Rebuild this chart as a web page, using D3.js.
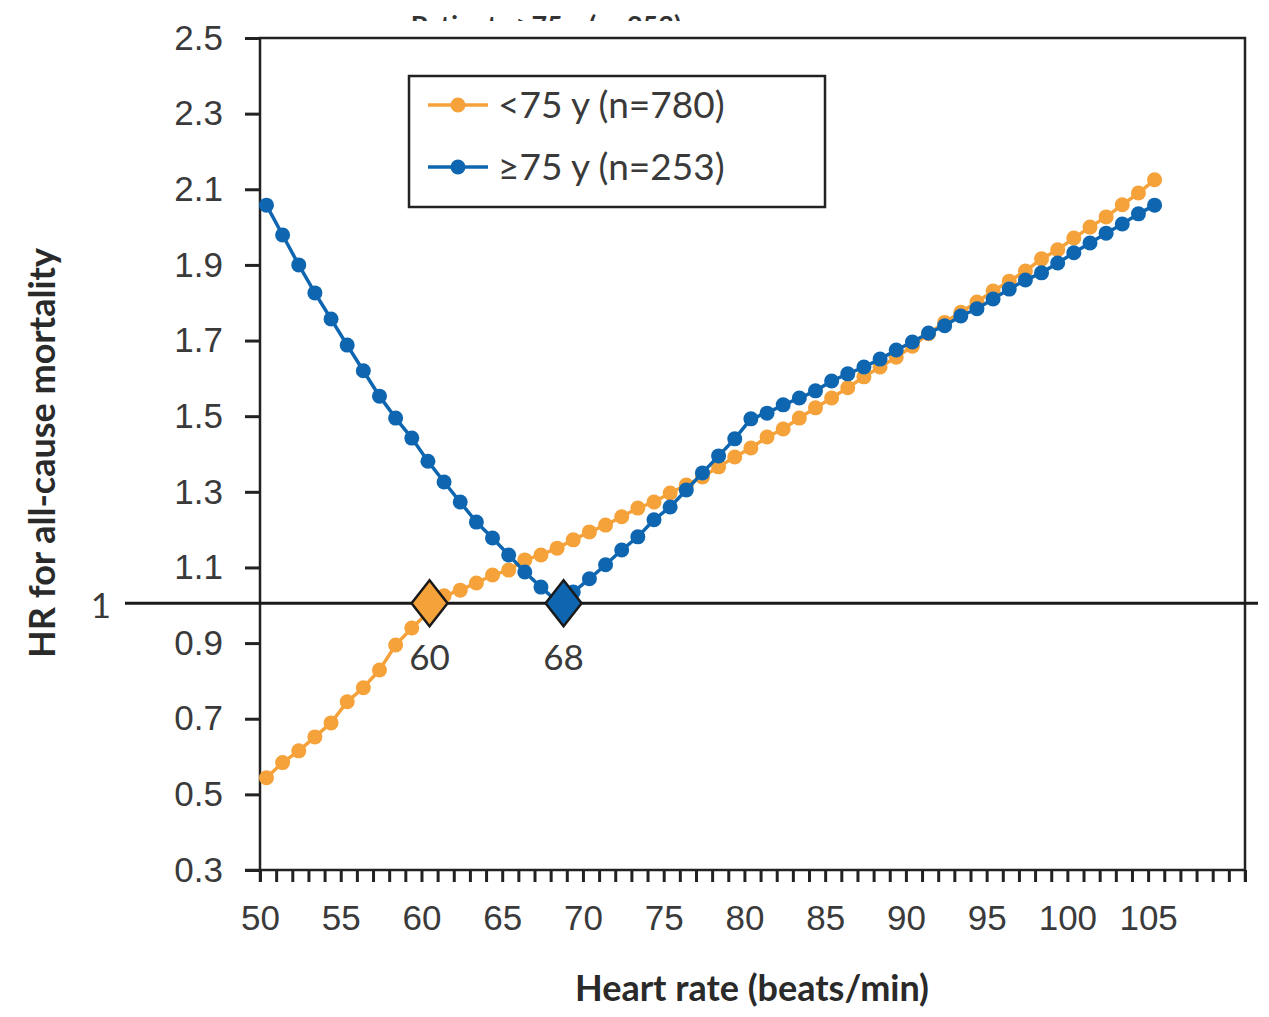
<!DOCTYPE html>
<html>
<head>
<meta charset="utf-8">
<script src="https://cdn.jsdelivr.net/npm/d3@7"></script>
<style>
  body { margin: 0; background: #fff; }
  svg { font-family: Lato, "Open Sans", sans-serif; }
  .tick text { fill: #3a3a3a; font-size: 35px; }
  .axis-label { font-weight: bold; font-size: 36px; fill: #2a2a2a; }
</style>
</head>
<body>
<svg id="chart" width="1269" height="1017"></svg>
<script>
// heart rate of each plotted point (beats/min)
const heartRate = [50.4, 51.4, 52.4, 53.4, 54.4, 55.4, 56.4, 57.4, 58.4, 59.4,
  60.4, 61.4, 62.4, 63.4, 64.4, 65.4, 66.4, 67.4, 68.4, 69.4,
  70.4, 71.4, 72.4, 73.4, 74.4, 75.4, 76.4, 77.4, 78.4, 79.4,
  80.4, 81.4, 82.4, 83.4, 84.4, 85.4, 86.4, 87.4, 88.4, 89.4,
  90.4, 91.4, 92.4, 93.4, 94.4, 95.4, 96.4, 97.4, 98.4, 99.4,
  100.4, 101.4, 102.4, 103.4, 104.4, 105.4];

// HR, patients <75 y
const hrUnder75 = [0.544, 0.584, 0.615, 0.652, 0.689, 0.745, 0.782, 0.829, 0.895, 0.940,
  0.980, 1.025, 1.040, 1.059, 1.080, 1.093, 1.120, 1.133, 1.151, 1.173,
  1.194, 1.212, 1.234, 1.257, 1.273, 1.297, 1.318, 1.339, 1.366, 1.392,
  1.416, 1.445, 1.466, 1.495, 1.522, 1.548, 1.575, 1.604, 1.630, 1.656,
  1.685, 1.718, 1.748, 1.775, 1.802, 1.831, 1.857, 1.884, 1.916, 1.940,
  1.971, 2.000, 2.027, 2.059, 2.090, 2.125];

// HR, patients >=75 y
const hrOver75 = [2.058, 1.979, 1.900, 1.826, 1.757, 1.688, 1.620, 1.553, 1.495, 1.442,
  1.381, 1.326, 1.273, 1.220, 1.178, 1.133, 1.088, 1.048, 1.010, 1.035,
  1.070, 1.107, 1.146, 1.181, 1.226, 1.260, 1.305, 1.350, 1.395, 1.440,
  1.493, 1.508, 1.530, 1.548, 1.567, 1.593, 1.612, 1.630, 1.651, 1.675,
  1.696, 1.720, 1.739, 1.765, 1.784, 1.810, 1.836, 1.860, 1.879, 1.905,
  1.932, 1.958, 1.984, 2.008, 2.035, 2.058];

const seriesNames = ["<75 y (n=780)", "\u226575 y (n=253)"];
const seriesColors = ["#f6a23a", "#0f66b0"];

// lowest-risk heart rates (diamonds)
const nadirLabels = ["60", "68"];
const nadirRate = [60.5, 68.8];

const xTicks = d3.range(50, 112);
const xTickLabels = [50, 55, 60, 65, 70, 75, 80, 85, 90, 95, 100, 105];
const yTicks = [0.3, 0.5, 0.7, 0.9, 1.1, 1.3, 1.5, 1.7, 1.9, 2.1, 2.3, 2.5];

const svg = d3.select('#chart');
const margin = { top: 38, left: 260, right: 24, bottom: 147 };
const width = +svg.attr('width');
const height = +svg.attr('height');
const innerWidth = width - margin.left - margin.right;
const innerHeight = height - margin.top - margin.bottom;

const xScale = d3.scaleLinear().domain([50, 111]).range([0, innerWidth]);
const yScale = d3.scaleLinear().domain([0.3, 2.5]).range([innerHeight, 0]);

const g = svg.append('g')
    .attr('transform', 'translate(' + margin.left + ',' + margin.top + ')');

// clipped title peeking above the frame
svg.append('clipPath').attr('id', 'titleClip')
  .append('rect').attr('x', 0).attr('y', 0).attr('width', width).attr('height', 21);
svg.append('text')
    .attr('clip-path', 'url(#titleClip)')
    .attr('x', 546).attr('y', 35)
    .attr('text-anchor', 'middle')
    .style('font-size', '27px').style('font-weight', 'bold').style('fill', '#333')
    .text('Patients \u226575 y (n=253)');

// axes
const yAxis = d3.axisLeft(yScale).tickValues(yTicks).tickSize(15).tickPadding(22)
    .tickFormat(d3.format('.1f'));
const yG = g.append('g').call(yAxis);

const xAxis = d3.axisBottom(xScale).tickValues(xTicks).tickSize(12).tickPadding(23)
    .tickFormat(d => xTickLabels.includes(d) ? d : '');
const xG = g.append('g').attr('transform', 'translate(0,' + innerHeight + ')').call(xAxis);
xG.selectAll('.tick text').filter(d => !xTickLabels.includes(d)).remove();

[yG, xG].forEach(a => {
  a.select('.domain').remove();
  a.selectAll('.tick line').attr('stroke', '#222').attr('stroke-width', 3);
});

// frame
g.append('path')
    .attr('d', 'M0,' + (innerHeight + 12) + 'V0H' + innerWidth + 'V' + (innerHeight + 12))
    .attr('fill', 'none').attr('stroke', '#222').attr('stroke-width', 2.5);
g.append('line')
    .attr('x1', -15).attr('x2', innerWidth)
    .attr('y1', innerHeight).attr('y2', innerHeight)
    .attr('stroke', '#222').attr('stroke-width', 2.5);

// reference line at HR = 1
g.append('line')
    .attr('x1', 125 - margin.left).attr('x2', 1258 - margin.left)
    .attr('y1', yScale(1) - 2).attr('y2', yScale(1) - 2)
    .attr('stroke', '#1a1a1a').attr('stroke-width', 3);
g.append('text')
    .attr('x', 101 - margin.left).attr('y', yScale(1))
    .attr('dy', '0.36em').attr('text-anchor', 'middle')
    .style('font-size', '35px').style('fill', '#3a3a3a')
    .text('1');

// series
const line = d3.line().x(d => xScale(d[0])).y(d => yScale(d[1]));
[hrUnder75, hrOver75].forEach((vals, k) => {
  const pts = heartRate.map((h, i) => [h, vals[i]]);
  g.append('path').datum(pts)
      .attr('d', line).attr('fill', 'none')
      .attr('stroke', seriesColors[k]).attr('stroke-width', 3.5);
  g.append('g').selectAll('circle').data(pts).enter().append('circle')
      .attr('cx', d => xScale(d[0])).attr('cy', d => yScale(d[1]))
      .attr('r', 7.5).attr('fill', seriesColors[k]);
});

// diamonds at the nadir
nadirRate.forEach((r, k) => {
  const cx = xScale(r), cy = yScale(1) - 2;
  g.append('path')
      .attr('d', 'M' + cx + ',' + (cy - 23) + 'L' + (cx + 18) + ',' + cy + 'L' + cx + ',' + (cy + 23) + 'L' + (cx - 18) + ',' + cy + 'Z')
      .attr('fill', seriesColors[k]).attr('stroke', '#1a1a1a').attr('stroke-width', 2.5);
  g.append('text')
      .attr('x', cx).attr('y', cy + 67)
      .attr('text-anchor', 'middle')
      .style('font-size', '35px').style('fill', '#3a3a3a')
      .text(nadirLabels[k]);
});

// legend
const lg = svg.append('g').attr('transform', 'translate(409,76)');
lg.append('rect').attr('width', 416).attr('height', 131)
    .attr('fill', '#fff').attr('stroke', '#222').attr('stroke-width', 2.5);
seriesNames.forEach((name, k) => {
  const yy = 29 + k * 62;
  lg.append('line').attr('x1', 19).attr('x2', 79).attr('y1', yy).attr('y2', yy)
      .attr('stroke', seriesColors[k]).attr('stroke-width', 3.5);
  lg.append('circle').attr('cx', 49).attr('cy', yy).attr('r', 7.5).attr('fill', seriesColors[k]);
  lg.append('text').attr('x', 89).attr('y', yy).attr('dy', '0.36em')
      .style('font-size', '37px').style('fill', '#3a3a3a')
      .text(name);
});

// axis labels
g.append('text')
    .attr('class', 'axis-label')
    .attr('transform', 'rotate(-90)')
    .attr('x', -(453 - margin.top)).attr('y', 55 - margin.left)
    .attr('text-anchor', 'middle')
    .text('HR for all-cause mortality');
g.append('text')
    .attr('class', 'axis-label')
    .attr('text-anchor', 'middle')
    .attr('x', 752 - margin.left).attr('y', 1001 - margin.top)
    .text('Heart rate (beats/min)');
</script>
</body>
</html>
